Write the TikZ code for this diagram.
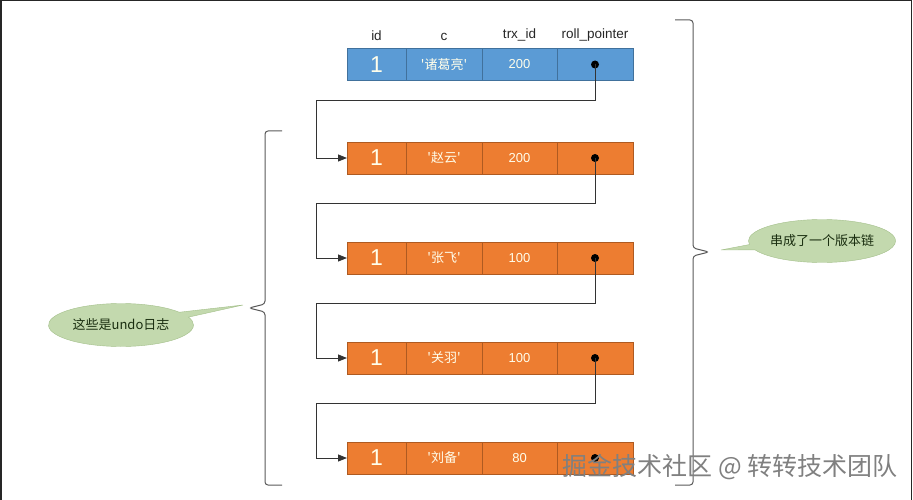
\documentclass[tikz,border=0pt]{standalone}
\usepackage{fontspec}
\setmainfont{Liberation Sans}
\newfontfamily\cjk{Noto Sans CJK SC}
\usepackage{tikz}
\usetikzlibrary{
    arrows.meta,
    shapes.geometric,
    shapes.callouts,
    positioning
}
\definecolor{cellblue}{HTML}{5B9BD5}
\definecolor{cellblueline}{HTML}{41719C}
\definecolor{cellorange}{HTML}{ED7D31}
\definecolor{cellorangeline}{HTML}{AE5A21}
\definecolor{notegreen}{HTML}{C3D9AE}
\definecolor{notegreenline}{HTML}{A3BF8A}
\definecolor{notetext}{HTML}{1A2E10}
\tikzstyle{cell} = [
    rectangle,
    minimum height=32pt,
    inner sep=0pt,
    outer sep=0pt,
    line width=0.8pt,
    text=white!92!yellow,
    font=\fontsize{13}{15}\selectfont
]
\tikzstyle{blue cell} = [cell, draw=cellblueline, fill=cellblue]
\tikzstyle{orange cell} = [cell, draw=cellorangeline, fill=cellorange]
\tikzstyle{idcell} = [minimum width=59pt, font=\fontsize{23}{25}\selectfont]
\tikzstyle{ccell} = [minimum width=76pt]
\tikzstyle{trxcell} = [minimum width=75pt]
\tikzstyle{ptrcell} = [minimum width=76pt]
\tikzstyle{header} = [font=\fontsize{13.5}{15}\selectfont, text=black!85]
\tikzstyle{link} = [
    -{Triangle[length=9pt,width=7pt]},
    line width=0.9pt,
    draw=black!80
]
\tikzstyle{bracket} = [line width=1pt, draw=black!65, rounded corners=3pt]
\tikzstyle{note} = [
    ellipse callout,
    draw=notegreenline,
    fill=notegreen,
    minimum width=145pt,
    minimum height=43pt,
    inner sep=0pt,
    text=notetext,
    font=\cjk\fontsize{13}{15}\selectfont
]

\begin{document}
\begin{tikzpicture}[x=1pt, y=-1pt]
        \useasboundingbox (0,0) rectangle (913,500);
        \draw[line width=1.5pt, draw=black!85] (0.75,500) -- (0.75,0.75) -- (911.5,0.75) -- (911.5,500);

        % Current record
        \node[blue cell, idcell, anchor=west] (r0id) at (347,64.5) {1};
        \node[blue cell, ccell, right=0pt of r0id] (r0c) {\cjk '诸葛亮'};
        \node[blue cell, trxcell, right=0pt of r0c] (r0trx) {200};
        \node[blue cell, ptrcell, right=0pt of r0trx] (r0p) {};

        % Column names
        \node[header, above=4pt of r0id] (hid) {id};
        \node[header, above=4pt of r0c] (hc) {c};
        \node[header, above=4pt of r0trx] (htrx) {trx\_id};
        \node[header, above=4pt of r0p] (hptr) {roll\_pointer};

        % Undo log records
        \node[orange cell, idcell, anchor=west] (r1id) at (347,158) {1};
        \node[orange cell, ccell, right=0pt of r1id] (r1c) {\cjk '赵云'};
        \node[orange cell, trxcell, right=0pt of r1c] (r1trx) {200};
        \node[orange cell, ptrcell, right=0pt of r1trx] (r1p) {};

        \node[orange cell, idcell, anchor=west] (r2id) at (347,258) {1};
        \node[orange cell, ccell, right=0pt of r2id] (r2c) {\cjk '张飞'};
        \node[orange cell, trxcell, right=0pt of r2c] (r2trx) {100};
        \node[orange cell, ptrcell, right=0pt of r2trx] (r2p) {};

        \node[orange cell, idcell, anchor=west] (r3id) at (347,358) {1};
        \node[orange cell, ccell, right=0pt of r3id] (r3c) {\cjk '关羽'};
        \node[orange cell, trxcell, right=0pt of r3c] (r3trx) {100};
        \node[orange cell, ptrcell, right=0pt of r3trx] (r3p) {};

        \node[orange cell, idcell, anchor=west] (r4id) at (347,458) {1};
        \node[orange cell, ccell, right=0pt of r4id] (r4c) {\cjk '刘备'};
        \node[orange cell, trxcell, right=0pt of r4c] (r4trx) {80};
        \node[orange cell, ptrcell, right=0pt of r4trx] (r4p) {};

        % Pointers
        \fill[black] (r0p.center) circle (4pt);
        \fill[black] (r1p.center) circle (4pt);
        \fill[black] (r2p.center) circle (4pt);
        \fill[black] (r3p.center) circle (4pt);
        \fill[black] (r4p.center) circle (4pt);

        \coordinate (bend0) at (316,100);
        \coordinate (bend1) at (316,203);
        \coordinate (bend2) at (316,303);
        \coordinate (bend3) at (316,403);
        \draw[link] (r0p.center) |- (bend0) |- (r1id.west);
        \draw[link] (r1p.center) |- (bend1) |- (r2id.west);
        \draw[link] (r2p.center) |- (bend2) |- (r3id.west);
        \draw[link] (r3p.center) |- (bend3) |- (r4id.west);

        % Braces
        \draw[bracket] (282,131) -- (265,131) -- (265,304) -- (249,308) -- (265,312) -- (265,485) -- (282,485);
        \draw[bracket] (675,20) -- (693,20) -- (693,248) -- (709,252) -- (693,256) -- (693,485) -- (675,485);

        % Notes
        \coordinate (ltip) at (243,305);
        \coordinate (rtip) at (721,250);
        \node[note, callout absolute pointer={(ltip)}] (undo) at (121,325) {这些是undo日志};
        \node[note, callout absolute pointer={(rtip)}] (chain) at (822,241) {串成了一个版本链};

        % Watermark
        \node[text=black!50, font=\cjk\fontsize{25}{27}\selectfont] (mark) at (730,467) {掘金技术社区 @ 转转技术团队};
    \end{tikzpicture}
\end{document}
